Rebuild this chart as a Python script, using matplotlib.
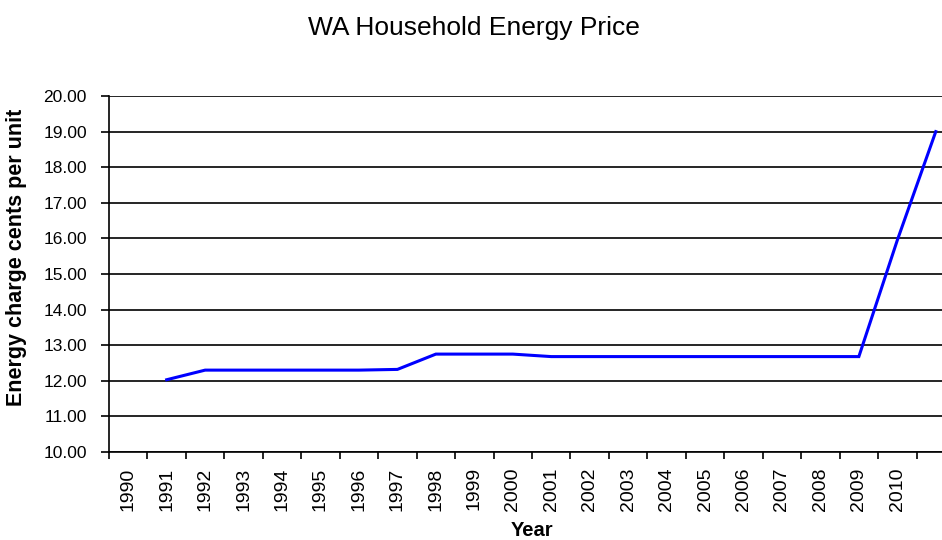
import numpy as np
import matplotlib
matplotlib.use("Agg")
import matplotlib.pyplot as plt

plt.rcParams['font.family'] = ['Liberation Sans', 'DejaVu Sans']

# chart data (1990 has no value, last category has no label)
years = list(range(1990, 2012))
tick_labels = [str(y) for y in years[:-1]] + ['']
price = [np.nan, 12.03, 12.30, 12.30, 12.30, 12.30, 12.30, 12.32,
         12.75, 12.75, 12.75, 12.68, 12.68, 12.68, 12.68, 12.68,
         12.68, 12.68, 12.68, 12.68, 15.95, 19.00]
y_ticks = np.arange(10, 21, 1)

fig = plt.figure(figsize=(9.42, 5.40), dpi=100)
# plot area runs past the right edge, like the cropped original
ax = fig.add_axes([109/942, 1 - 452/540, 846/942, 356/540])

x = np.arange(len(years))
ax.plot(x, price, color='#0000ff', linewidth=2.2, solid_joinstyle='miter')

ax.set_xlim(-0.5, len(years) - 0.5)
ax.set_ylim(10, 20)

# category ticks between the labels
ax.set_xticks(np.arange(len(years) + 1) - 0.5)
ax.set_xticklabels([])
ax.set_xticks(x, minor=True)
ax.set_xticklabels(tick_labels, minor=True, rotation=90, fontsize=14)
ax.tick_params(axis='x', which='major', direction='out', length=5, width=1.2)
ax.tick_params(axis='x', which='minor', length=0, pad=11)

ax.set_yticks(y_ticks)
ax.set_yticklabels(['%.2f' % v for v in y_ticks], fontsize=12.5)
ax.tick_params(axis='y', direction='out', length=6, width=1.2, pad=10)

ax.grid(axis='y', color='black', linewidth=1.2)
ax.set_axisbelow(True)
for s in ['top', 'right']:
    ax.spines[s].set_visible(False)
for s in ['left', 'bottom']:
    ax.spines[s].set_linewidth(1.2)

ax.set_ylabel('Energy charge cents per unit', fontsize=15.5, fontweight='bold')
ax.yaxis.set_label_coords(-0.097, 0.548)
ax.set_xlabel('Year', fontsize=14.5, fontweight='bold', va='baseline')
ax.xaxis.set_label_coords(0.5, -0.237)

fig.text(474/942, 1 - 35/540, 'WA Household Energy Price', fontsize=19,
         ha='center', va='baseline')

fig.savefig('out.png', dpi=100)
